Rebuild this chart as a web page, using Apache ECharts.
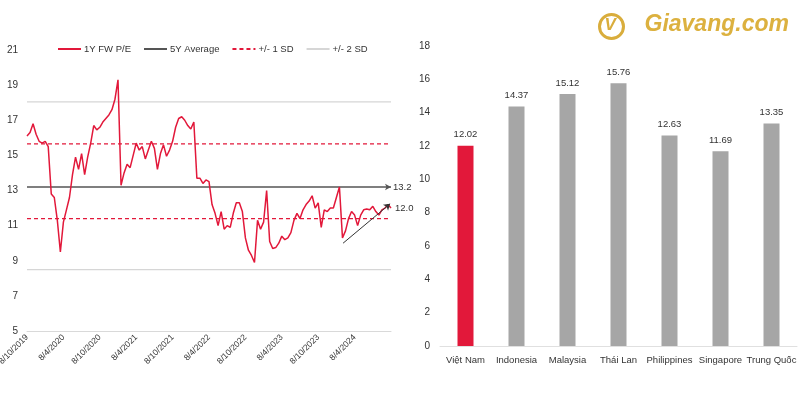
<!DOCTYPE html>
<html>
<head>
<meta charset="utf-8">
<script src="https://cdn.jsdelivr.net/npm/echarts@6/dist/echarts.min.js"></script>
<style>html,body{margin:0;padding:0;background:#fff}#c{width:800px;height:400px}</style>
</head>
<body>
<div id="c"></div>
<script>
// ---- Left chart data (1Y forward P/E, semi-monthly readings) ----
const xTickLabels = ["8/10/2019","8/4/2020","8/10/2020","8/4/2021","8/10/2021","8/4/2022","8/10/2022","8/4/2023","8/10/2023","8/4/2024"];
const peValues = [
  16.1,16.3,16.8,16.2,15.8,15.7,15.8,15.5,12.8,12.6,
  11.3,9.5,11.2,11.9,12.6,13.9,14.9,14.2,15.1,13.9,
  14.9,15.7,16.7,16.45,16.6,16.9,17.1,17.3,17.6,18.2,
  19.3,13.3,14.0,14.5,14.3,15.0,15.7,15.3,15.5,14.8,
  15.3,15.8,15.4,14.2,15.1,15.6,14.95,15.3,15.8,16.6,
  17.1,17.2,17.0,16.7,16.5,16.9,13.7,13.7,13.4,13.6,
  13.5,12.2,11.7,11.0,11.8,10.8,11.0,10.9,11.7,12.3,
  12.3,11.8,10.3,9.6,9.3,8.9,11.3,10.8,11.2,13.0,
  10.1,9.7,9.75,10.0,10.4,10.2,10.3,10.6,11.3,11.7,
  11.4,11.9,12.2,12.4,12.7,12.0,12.3,10.9,11.9,11.8,
  12.0,12.0,12.6,13.2,10.3,10.7,11.4,11.8,11.6,11.0,
  11.6,11.9,11.95,11.9,12.1,11.8,11.6,11.9,12.0,12.2,
  12.0
];
const avg5Y = 13.2;
const sd1Upper = 15.65, sd1Lower = 11.4;
const sd2Upper = 18.05, sd2Lower = 8.5;
const trendLine = [[104.2, 10.0], [119.7, 12.24]];
const xMaxIndex = 120;

// ---- Right chart data ----
const countries = ["Việt Nam","Indonesia","Malaysia","Thái Lan","Philippines","Singapore","Trung Quốc"];
const countryPE = [12.02, 14.37, 15.12, 15.76, 12.63, 11.69, 13.35];

const RED = '#e2183a', GRAY_BAR = '#a6a6a6', TXT = '#333';
const FONT = '"Liberation Sans", Arial, sans-serif';

const hline = v => [[0, v], [xMaxIndex, v]];

const chart = echarts.init(document.getElementById('c'), null, {renderer: 'canvas'});
chart.setOption({
  animation: false,
  textStyle: {fontFamily: FONT, color: TXT},
  legend: {
    left: 57, top: 44, padding: 0, itemWidth: 23, itemHeight: 12, itemGap: 12,
    itemStyle: {opacity: 0},
    textStyle: {fontFamily: FONT, fontSize: 9.5, color: TXT, padding: [0, 0, 0, -2]},
    data: ['1Y FW P/E', '5Y Average', '+/- 1 SD', '+/- 2 SD']
  },
  grid: [
    {left: 27, right: 409, top: 50, bottom: 69, outerBoundsMode: 'none', containLabel: false},
    {left: 440, right: 3, top: 46, bottom: 54, outerBoundsMode: 'none', containLabel: false}
  ],
  xAxis: [
    {
      type: 'value', gridIndex: 0, min: 0, max: xMaxIndex, interval: 12,
      splitLine: {show: false},
      axisLine: {show: true, lineStyle: {color: '#d9d9d9'}},
      axisTick: {show: false},
      axisLabel: {
        rotate: 45, fontSize: 8.5, color: TXT, margin: 5, fontFamily: FONT,
        formatter: v => xTickLabels[Math.round(v / 12)] || ''
      }
    },
    {
      type: 'category', gridIndex: 1, data: countries,
      axisLine: {lineStyle: {color: '#e0e0e0'}},
      axisTick: {show: false},
      axisLabel: {fontSize: 9.5, color: TXT, margin: 9, fontFamily: FONT, interval: 0}
    }
  ],
  yAxis: [
    {
      type: 'value', gridIndex: 0, min: 5, max: 21, interval: 2,
      splitLine: {show: false}, axisLine: {show: false}, axisTick: {show: false},
      axisLabel: {fontSize: 10, color: TXT, margin: 9, fontFamily: FONT}
    },
    {
      type: 'value', gridIndex: 1, min: 0, max: 18, interval: 2,
      splitLine: {show: false}, axisLine: {show: false}, axisTick: {show: false},
      axisLabel: {fontSize: 10, color: TXT, margin: 10, fontFamily: FONT}
    }
  ],
  series: [
    {
      name: '+/- 2 SD', type: 'line', xAxisIndex: 0, yAxisIndex: 0,
      data: hline(sd2Upper), showSymbol: false, symbol: 'none',
      lineStyle: {color: '#d6d6d6', width: 1.2}, itemStyle: {color: '#d6d6d6'}, silent: true
    },
    {
      name: '+/- 2 SD', type: 'line', xAxisIndex: 0, yAxisIndex: 0,
      data: hline(sd2Lower), showSymbol: false, symbol: 'none',
      lineStyle: {color: '#d6d6d6', width: 1.2}, itemStyle: {color: '#d6d6d6'}, silent: true
    },
    {
      name: '+/- 1 SD', type: 'line', xAxisIndex: 0, yAxisIndex: 0,
      data: hline(sd1Upper), showSymbol: false, symbol: 'none',
      lineStyle: {color: RED, width: 1.2, type: [4, 3]}, itemStyle: {color: RED}, silent: true
    },
    {
      name: '+/- 1 SD', type: 'line', xAxisIndex: 0, yAxisIndex: 0,
      data: hline(sd1Lower), showSymbol: false, symbol: 'none',
      lineStyle: {color: RED, width: 1.2, type: [4, 3]}, itemStyle: {color: RED}, silent: true
    },
    {
      name: '5Y Average', type: 'line', xAxisIndex: 0, yAxisIndex: 0,
      data: [
        {value: [0, avg5Y], symbol: 'none'},
        {value: [xMaxIndex, avg5Y], symbol: 'arrow', symbolSize: [5, 6], symbolRotate: -90}
      ],
      symbol: 'none',
      lineStyle: {color: '#555', width: 1.3}, itemStyle: {color: '#555'},
      endLabel: {show: true, formatter: p => p.value[1].toFixed(1), fontSize: 9.5, color: TXT, distance: 2, fontFamily: FONT}
    },
    {
      name: '1Y FW P/E', type: 'line', xAxisIndex: 0, yAxisIndex: 0,
      data: peValues.map((v, i) => [i, v]),
      showSymbol: false, symbol: 'none',
      lineStyle: {color: RED, width: 1.5}, itemStyle: {color: RED},
      endLabel: {show: true, formatter: p => p.value[1].toFixed(1), fontSize: 9.5, color: TXT, distance: 4, fontFamily: FONT},
      markLine: {
        silent: true, symbol: ['none', 'arrow'], symbolSize: 6,
        label: {show: false},
        lineStyle: {color: '#333', width: 1, type: 'solid'},
        data: [[{coord: trendLine[0]}, {coord: trendLine[1]}]]
      }
    },
    {
      name: 'P/E', type: 'bar', xAxisIndex: 1, yAxisIndex: 1,
      barWidth: 16,
      data: countryPE.map((v, i) => ({value: v, itemStyle: {color: i === 0 ? RED : GRAY_BAR}})),
      label: {show: true, position: 'top', fontSize: 9.5, color: TXT, distance: 6, fontFamily: FONT,
              formatter: p => p.value.toFixed(2)}
    }
  ],
  graphic: [
    {
      type: 'group', left: 597, top: 12,
      children: [
        {type: 'circle', shape: {cx: 15, cy: 15, r: 12}, style: {fill: 'none', stroke: '#d9ad3c', lineWidth: 3}},
        {type: 'text', x: 8, y: 5, style: {text: 'V', fill: '#d9ad3c', font: 'bold italic 17px "Liberation Sans", Arial'}},
        {type: 'text', x: 48, y: 2, style: {text: 'Giavang.com', fill: '#dcb13f', font: 'bold italic 23px "Liberation Sans", Arial'}}
      ]
    }
  ]
});
</script>
</body>
</html>
